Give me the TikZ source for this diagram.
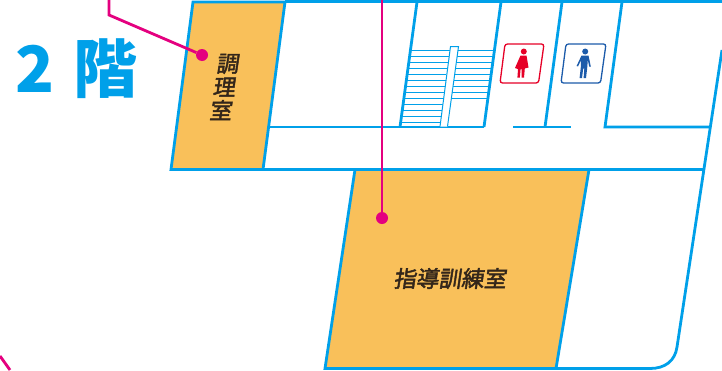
\documentclass[tikz,border=0pt]{standalone}
\usepackage{fontspec}
\setmainfont{Noto Sans CJK JP}
\newfontfamily\labelfont[FakeBold=2]{Noto Sans CJK JP}
\definecolor{wallblue}{HTML}{00A0E9}
\definecolor{roomorange}{HTML}{F9C05A}
\definecolor{leaderpink}{HTML}{E4007F}
\definecolor{ladyred}{HTML}{E60027}
\definecolor{manblue}{HTML}{1C5BAA}
\definecolor{labelbrown}{HTML}{33261A}
\begin{document}
\begin{tikzpicture}[
    x=1pt, y=-1pt,
    wall/.style={wallblue, line width=2.8pt},
    tread/.style={wallblue, line width=1pt},
    room/.style={fill=roomorange, draw=wallblue, line width=2.8pt},
    leader/.style={leaderpink, line width=2.8pt},
    leaderdot/.style={circle, fill=leaderpink, inner sep=0pt, minimum size=12pt},
    roomlabel/.style={font=\fontsize{22.5}{23.5}\labelfont, text=labelbrown, align=center, inner sep=0pt, xslant=0.15, transform shape},
    signbox/.style={line width=1.3pt, rounded corners=2.5pt, fill=white}
]
\useasboundingbox (0,0) rectangle (722,370);

% Rooms
\draw[room] (193,2) -- (285,2) -- (263,169.5) -- (171,169.5) -- cycle;
\draw[room] (355,169.5) -- (589,169.5) -- (556,368.5) -- (325,368.5) -- cycle;

% Outer walls
\draw[wall] (285,1.5) -- (722,1.5);
\draw[wall] (263,169.5) -- (355,169.5);
\draw[wall] (589,169.5) -- (704,169.5);
\draw[wall] (556,368.5) -- (650,368.5) .. controls (665,368.5) and (675,361) .. (677,347) -- (722,50);

% Inner walls
\draw[wall] (269,127) -- (484,127);
\draw[wall] (417,2) -- (400,127);
\draw[wall] (501,2) -- (484,127);
\draw[wall] (562,2) -- (545,127);
\draw[wall] (513,127) -- (571,127);
\draw[wall] (622,2) -- (605,127) -- (710,127);

% Stairs
\foreach \y/\xa/\xb in {50/410.5/449.5, 56/409.7/448.8, 62/408.8/448, 68/408/447, 74/407.2/446.3, 80/406.4/445.5, 86/405.6/444.8, 92/404.7/444, 98/404/443.2, 104/403/442.5, 110/402.3/441.7, 116/401.5/441, 122/400.7/440.3}
    \draw[tread] (\xa,\y) -- (\xb,\y);
\foreach \y/\xa/\xb in {50/458/494.5, 56/457.2/493.7, 62/456.3/492.8, 68/455.5/492, 74/454.7/491.2, 80/453.8/490.4, 86/453/489.6, 92/452.2/488.7, 98/451.5/488}
    \draw[tread] (\xa,\y) -- (\xb,\y);
\draw[tread, fill=white] (440,126.5) -- (450.5,46.5) -- (458.5,46.5) -- (447.5,126.5);

% Toilet signs
\draw[signbox, draw=ladyred] (505,44) -- (544,44) -- (538.5,83) -- (500,83) -- cycle;
\fill[ladyred] (523.8,51.5) circle (3);
\fill[ladyred] (520.5,55.5) -- (526.5,55.5) -- (528.5,67.5) -- (524.8,68.5) -- (524,77.7) -- (521.6,77.7) -- (521.6,69) -- (520.6,69) -- (519.8,77.7) -- (517.4,77.7) -- (518,69) -- (515,68) -- cycle;
\draw[signbox, draw=manblue] (566,44) -- (606,44) -- (600.5,83) -- (561,83) -- cycle;
\fill[manblue] (585.2,51.5) circle (3);
\fill[manblue] (581.5,55.5) -- (588.5,55.5) -- (590.8,66.5) -- (589.2,66.5) -- (587.8,60) -- (587.2,68) -- (586,78) -- (583.6,78) -- (584.3,68.5) -- (583.2,68.5) -- (582,78) -- (579.6,78) -- (580.8,67) -- (581,60) -- (578,66.5) -- (576.6,66) -- cycle;

% Leader lines
\node[leaderdot] (cookdot) at (202,55) {};
\node[leaderdot] (traindot) at (382,218) {};
\coordinate (cooktop) at (109,0);
\coordinate (cookbend) at (109,15);
\coordinate (traintop) at (382,0);
\coordinate (edgetop) at (0,356);
\coordinate (edgeend) at (10,370);
\draw[leader] (cooktop) -- (cookbend) -- (cookdot);
\draw[leader] (traintop) -- (traindot);
\draw[leader] (edgetop) -- (edgeend);

% Labels
\node[font=\fontsize{64}{64}\selectfont\bfseries, text=wallblue, inner sep=0pt, anchor=west] (floorname) at (15,69) {2\hspace{19pt}階};
\node[roomlabel] (cooklabel) at (225,87) {調\\理\\室};
\node[roomlabel] (trainlabel) at (451,278.5) {指導訓練室};

\end{tikzpicture}
\end{document}
